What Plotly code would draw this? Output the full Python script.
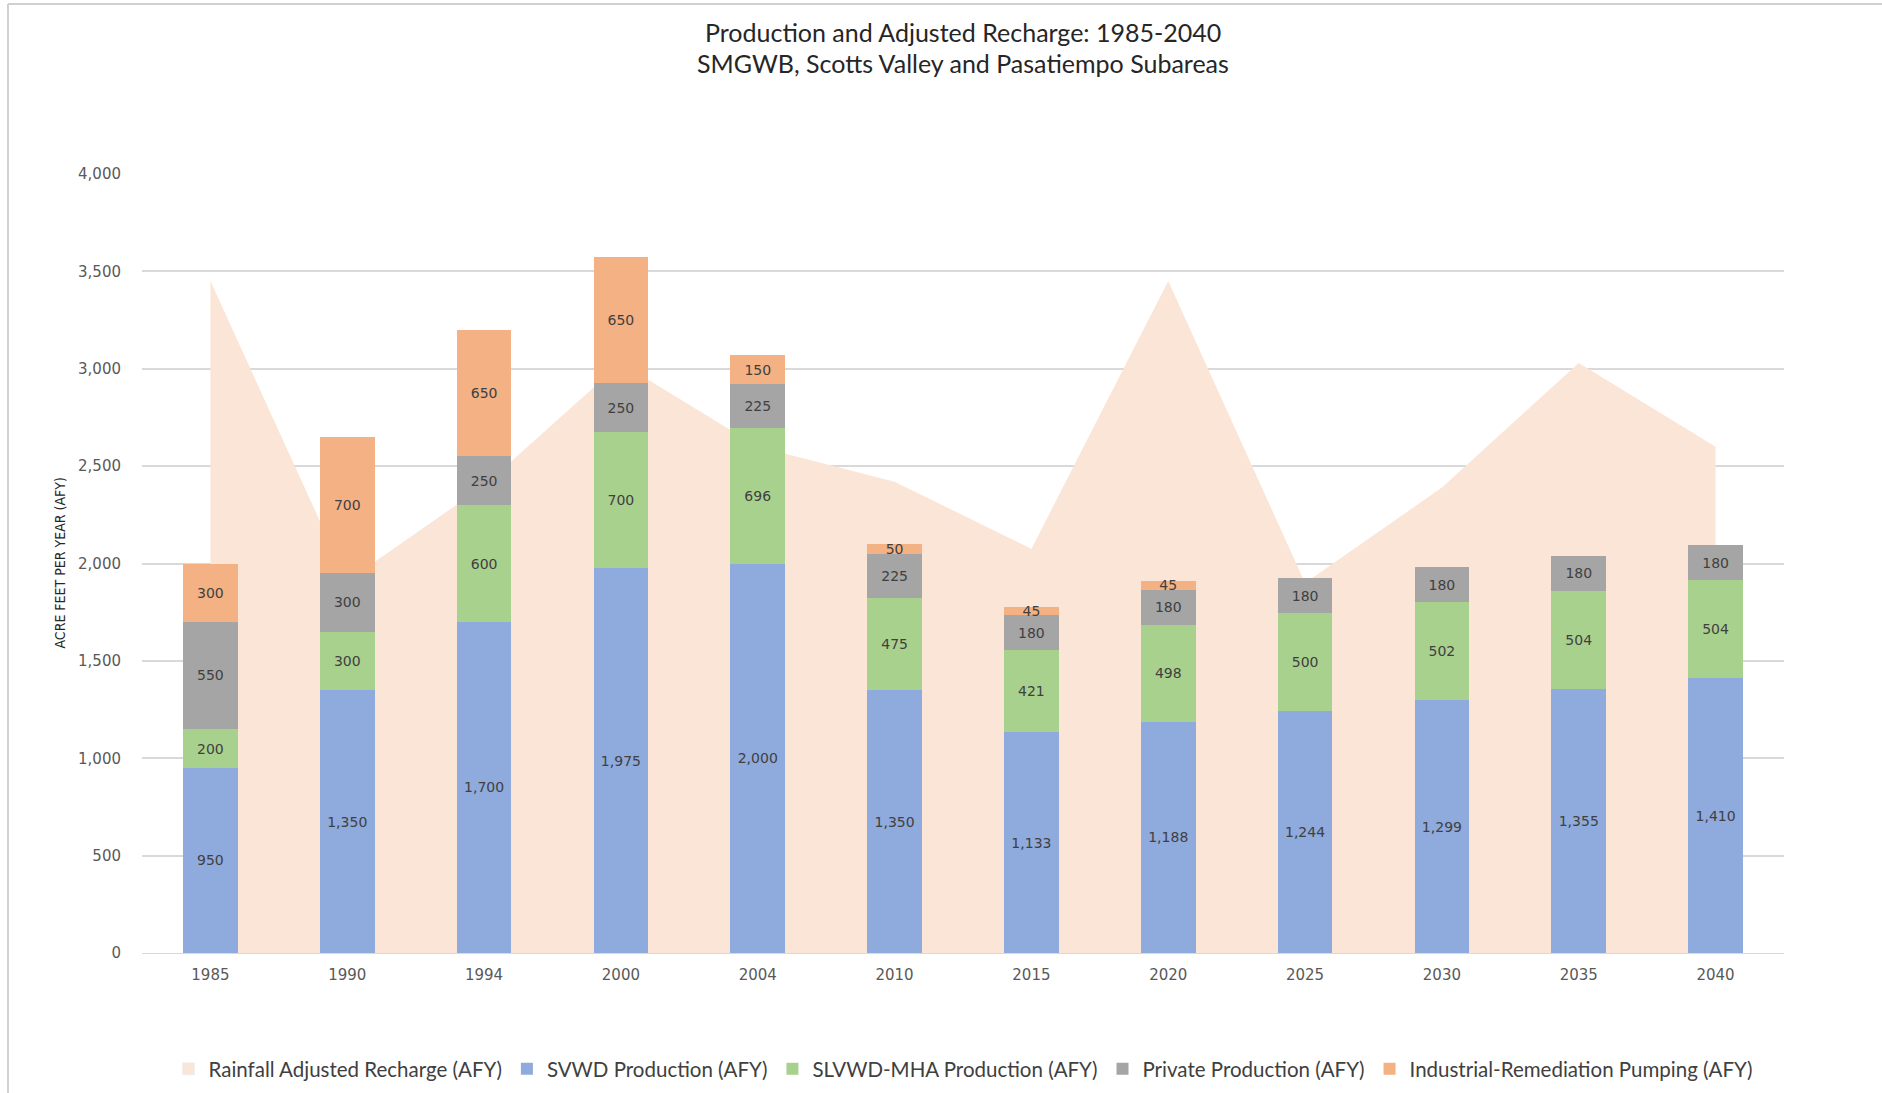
import plotly.graph_objects as go

years = ["1985", "1990", "1994", "2000", "2004", "2010", "2015", "2020", "2025", "2030", "2035", "2040"]
recharge = [3450, 1910, 2400, 3030, 2600, 2420, 2075, 3450, 1900, 2390, 3030, 2600]
svwd = [950, 1350, 1700, 1975, 2000, 1350, 1133, 1188, 1244, 1299, 1355, 1410]
slvwd = [200, 300, 600, 700, 696, 475, 421, 498, 500, 502, 504, 504]
private = [550, 300, 250, 250, 225, 225, 180, 180, 180, 180, 180, 180]
industrial = [300, 700, 650, 650, 150, 50, 45, 45, 0, 0, 0, 0]
y_ticks = [0, 500, 1000, 1500, 2000, 2500, 3000, 3500, 4000]

W, H = 1882, 1093
L, R, T, B = 142, 98, 174, 140
PW, PH = W - L - R, H - T - B

def px_x(p):
    return (p - L) / PW

def px_y(p):
    return (H - B - p) / PH

label_font = dict(family="DejaVu Sans", size=14, color="#404040")
AREA_COL = "#FBE5D6"

fig = go.Figure()
# legend-only entry so the swatch is a square like the reference
fig.add_trace(go.Bar(
    x=[None], y=[None], name="Rainfall Adjusted Recharge (AFY)",
    marker=dict(color=AREA_COL), xaxis="x2", showlegend=True,
))
# area drawn on the base x axis (below the bars' overlay axis)
fig.add_trace(go.Scatter(
    x=years, y=recharge, name="Rainfall Adjusted Recharge (AFY)",
    mode="none", fill="tozeroy", fillcolor=AREA_COL,
    line=dict(width=0, color=AREA_COL), showlegend=False, xaxis="x",
))

series = [
    ("SVWD Production (AFY)", svwd, "#8FAADC"),
    ("SLVWD-MHA Production (AFY)", slvwd, "#A9D18E"),
    ("Private Production (AFY)", private, "#A5A5A5"),
    ("Industrial-Remediation Pumping (AFY)", industrial, "#F4B183"),
]
for name, vals, col in series:
    fig.add_trace(go.Bar(
        x=years, y=vals, name=name, xaxis="x2",
        marker=dict(color=col, line=dict(width=0)),
        text=[f"{v:,}" if v else "" for v in vals],
        textposition="inside", insidetextanchor="middle",
        constraintext="none", textfont=label_font,
        textangle=0,
    ))

tickfont = dict(family="DejaVu Sans", size=15, color="#595959")
title_font = dict(family="Lato", size=25, color="#262626")

fig.update_layout(
    width=W, height=H,
    margin=dict(l=L, r=R, t=T, b=B),
    paper_bgcolor="white", plot_bgcolor="white",
    barmode="stack", bargap=0.6,
    showlegend=True,
    legend=dict(
        orientation="h", x=0.5, xanchor="center",
        yref="container", y=1 - 1069 / H, yanchor="middle",
        font=dict(family="Lato", size=20.5, color="#404040"),
        itemwidth=30, traceorder="normal",
    ),
    xaxis=dict(
        type="category", categoryorder="array", categoryarray=years,
        range=[-0.5, len(years) - 0.5],
        showgrid=False, showline=True, linecolor="#D9D9D9", linewidth=1,
        tickfont=tickfont, ticks="", ticklabelstandoff=8,
    ),
    xaxis2=dict(
        type="category", categoryorder="array", categoryarray=years,
        range=[-0.5, len(years) - 0.5], overlaying="x", visible=False,
    ),
    yaxis=dict(
        range=[0, 4000], tickvals=y_ticks, tickformat=",",
        showgrid=True, gridcolor="#D9D9D9", gridwidth=1.5,
        zeroline=False, showline=False, ticks="",
        tickfont=tickfont, ticklabelstandoff=20,
    ),
    annotations=[
        dict(text="Production and Adjusted Recharge: 1985-2040",
             xref="paper", yref="paper", x=px_x(963), y=px_y(32), xanchor="center", yanchor="middle",
             showarrow=False, font=title_font),
        dict(text="SMGWB, Scotts Valley and Pasatiempo Subareas",
             xref="paper", yref="paper", x=px_x(963), y=px_y(63), xanchor="center", yanchor="middle",
             showarrow=False, font=title_font),
        dict(text="ACRE FEET PER YEAR (AFY)", xref="paper", yref="paper",
             x=px_x(59), y=0.5, xanchor="center", yanchor="middle", textangle=-90,
             showarrow=False,
             font=dict(family="DejaVu Sans Condensed, Liberation Sans Narrow, Roboto Condensed, Roboto",
                       size=14, color="#262626")),
    ],
    shapes=[
        dict(type="line", xref="paper", yref="paper", x0=px_x(8), x1=px_x(1882), y0=px_y(4), y1=px_y(4),
             line=dict(color="#D0D0D0", width=2)),
        dict(type="line", xref="paper", yref="paper", x0=px_x(8), x1=px_x(8), y0=px_y(4), y1=px_y(1093),
             line=dict(color="#D0D0D0", width=2)),
    ],
)

fig.write_html("out.html")
